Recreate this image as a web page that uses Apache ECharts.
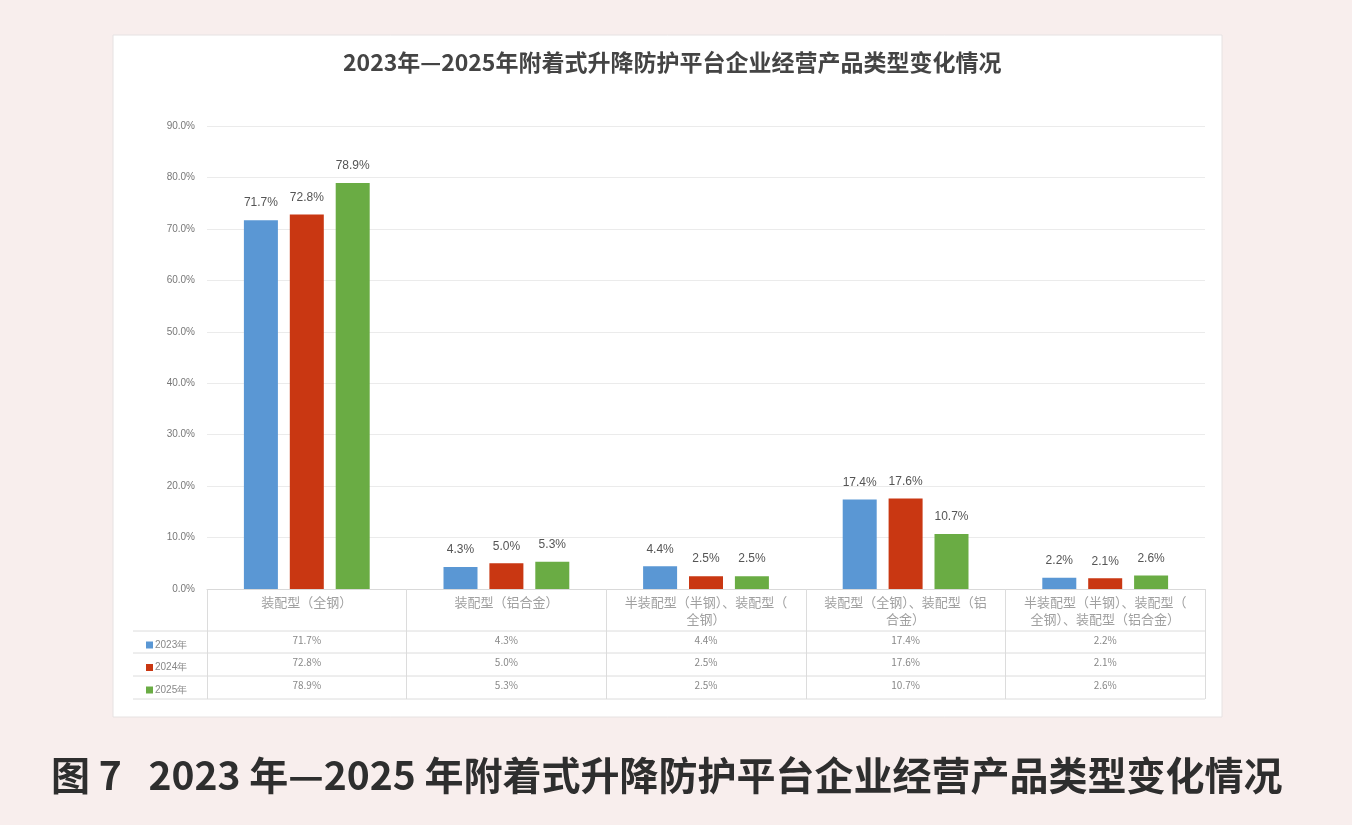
<!DOCTYPE html>
<html>
<head>
<meta charset="utf-8">
<script src="https://cdn.jsdelivr.net/npm/echarts@6/dist/echarts.min.js"></script>
<style>
html, body { margin: 0; padding: 0; background: #f8eeed; }
#container { width: 1352px; height: 825px; }
</style>
</head>
<body>
<div id="container"></div>
<script>
var categories = ['装配型（全钢）', '装配型（铝合金）', '半装配型（半钢）、装配型（全钢）', '装配型（全钢）、装配型（铝合金）', '半装配型（半钢）、装配型（全钢）、装配型（铝合金）'];
var years = ['2023年', '2024年', '2025年'];
var v2023 = [71.7, 4.3, 4.4, 17.4, 2.2];
var v2024 = [72.8, 5.0, 2.5, 17.6, 2.1];
var v2025 = [78.9, 5.3, 2.5, 10.7, 2.6];
var yTicks = [0, 10, 20, 30, 40, 50, 60, 70, 80, 90];

var colors = ['#5a97d4', '#c93712', '#6aac44'];
var seriesValues = [v2023, v2024, v2025];

var dom = document.getElementById("container");
var myChart = echarts.init(dom);

function pct(v) {
    return v.toFixed(1) + '%';
}

// data table rows under the plot, one hidden category axis per year
var tableAxes = seriesValues.map(function (vals, i) {
    return {
        type: 'category',
        data: categories,
        position: 'bottom',
        offset: 51 + i * 22.5,
        axisLine: { show: false },
        axisTick: { show: false },
        axisLabel: {
            margin: 0,
            verticalAlign: 'middle',
            fontSize: 10,
            color: '#888',
            fontFamily: 'Noto Sans CJK SC',
            formatter: function (val, idx) { return pct(vals[idx]); }
        }
    };
});

var tableLines = [631, 653, 676, 699].map(function (y) {
    return {
        type: 'line',
        silent: true,
        shape: { x1: 133, y1: y, x2: 1205, y2: y },
        style: { stroke: '#dcdcdc', lineWidth: 1 }
    };
});

var option = {
    backgroundColor: '#f8eeed',
    color: colors,
    title: [{
        text: '2023年—2025年附着式升降防护平台企业经营产品类型变化情况',
        left: 338,
        top: 46,
        textStyle: { fontSize: 23, fontWeight: 'bold', color: '#444', fontFamily: 'Noto Sans CJK SC' }
    }, {
        text: '图 7   2023 年—2025 年附着式升降防护平台企业经营产品类型变化情况',
        left: 46,
        top: 751,
        textStyle: { fontSize: 39, fontWeight: 'bold', color: '#2e2e2e', fontFamily: 'Noto Sans CJK SC' }
    }],
    legend: {
        orient: 'vertical',
        left: 141,
        top: 629,
        itemWidth: 7,
        itemHeight: 7,
        itemGap: 0.5,
        icon: 'rect',
        textStyle: { fontSize: 10, color: '#888', lineHeight: 22, padding: [0, 0, 0, -3] },
        data: years
    },
    grid: { left: 207, right: 147, top: 126, bottom: 236 },
    graphic: [{
        type: 'rect',
        z: -10,
        silent: true,
        shape: { x: 113, y: 35, width: 1109, height: 682 },
        style: { fill: '#ffffff', stroke: '#e6e2e2', lineWidth: 1 }
    }].concat(tableLines),
    xAxis: [{
        type: 'category',
        data: categories,
        axisLine: { lineStyle: { color: '#d9d9d9' } },
        axisTick: { show: true, length: 110, interval: 0, lineStyle: { color: '#dcdcdc' } },
        axisLabel: {
            interval: 0,
            margin: 5,
            width: 176,
            overflow: 'break',
            lineHeight: 17,
            fontSize: 13,
            color: '#a0a0a0',
            fontFamily: 'Noto Sans CJK SC'
        }
    }].concat(tableAxes),
    yAxis: {
        type: 'value',
        min: yTicks[0],
        max: yTicks[yTicks.length - 1],
        interval: 10,
        axisLine: { show: false },
        axisTick: { show: false },
        splitLine: { lineStyle: { color: '#ebebeb' } },
        axisLabel: {
            fontSize: 10,
            color: '#777',
            margin: 12,
            formatter: function (v) { return pct(v); }
        }
    },
    series: seriesValues.map(function (vals, i) {
        return {
            name: years[i],
            type: 'bar',
            data: vals,
            barWidth: 34,
            barGap: '35%',
            label: {
                show: true,
                position: 'top',
                distance: 11,
                fontSize: 12,
                color: '#555',
                formatter: function (p) { return pct(p.value); }
            }
        };
    })
};

if (option && typeof option === "object") {
    myChart.setOption(option, true);
}
</script>
</body>
</html>
